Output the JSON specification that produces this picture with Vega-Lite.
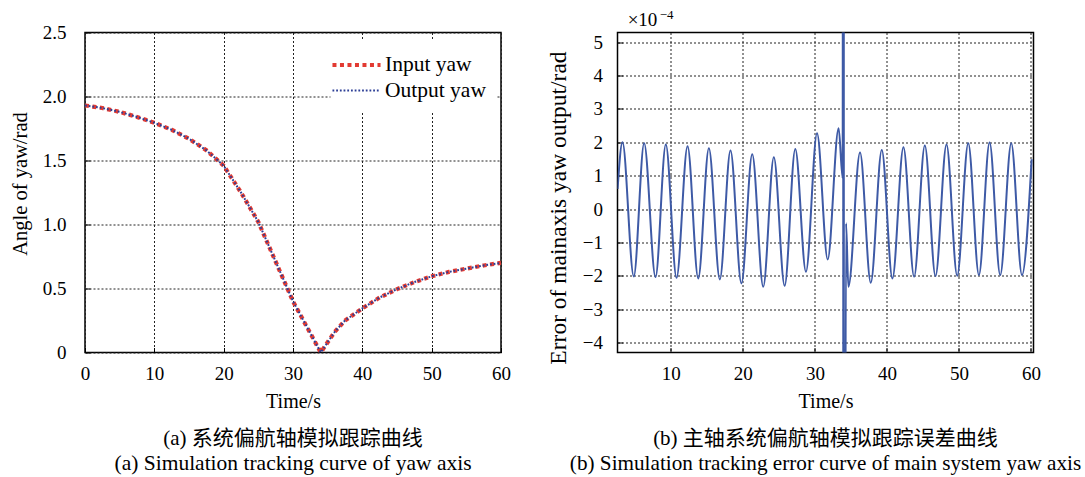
{
  "$schema": "https://vega.github.io/schema/vega-lite/v6.json",
  "background": "white",
  "padding": {"left": 9, "top": 7.5, "right": 0, "bottom": 0},
  "bounds": "flush",
  "spacing": 116.5,
  "config": {
    "view": {"stroke": "black", "strokeWidth": 1.5},
    "font": "Liberation Serif",
    "style": {
      "guide-label": {"font": "Liberation Serif", "fontSize": 19, "fill": "black"},
      "guide-title": {"font": "Liberation Serif", "fontSize": 20, "fontWeight": "normal", "fill": "black"}
    },
    "axis": {
      "domain": false,
      "grid": true,
      "gridColor": "#222222",
      "gridDash": [2, 2],
      "gridWidth": 1,
      "tickColor": "black",
      "tickSize": -5,
      "tickWidth": 1,
      "labelFont": "Liberation Serif",
      "labelFontSize": 19,
      "labelColor": "black",
      "titleFont": "Liberation Serif",
      "titleFontSize": 20,
      "titleFontWeight": "normal",
      "titleColor": "black",
      "labelFlush": false,
      "labelOverlap": false
    },
    "axisX": {"labelPadding": 17, "titlePadding": 8},
    "axisY": {"labelPadding": 24, "titlePadding": 12}
  },
  "hconcat": [
    {
      "width": 416,
      "height": 320,
      "title": {
        "text": "(a) 系统偏航轴模拟跟踪曲线",
        "subtitle": "(a) Simulation tracking curve of yaw axis",
        "orient": "bottom",
        "anchor": "middle",
        "frame": "group",
        "font": "Liberation Serif, Noto Sans CJK SC",
        "fontSize": 21,
        "fontWeight": "normal",
        "color": "black",
        "subtitleFont": "Liberation Serif",
        "subtitleFontSize": 21.5,
        "subtitleColor": "black",
        "subtitlePadding": 4,
        "offset": 16
      },
      "data": {
        "values": [
          {"t": 0, "v": 1.93, "series": "Input yaw"},
          {"t": 2.5, "v": 1.91, "series": "Input yaw"},
          {"t": 5, "v": 1.88, "series": "Input yaw"},
          {"t": 7.5, "v": 1.84, "series": "Input yaw"},
          {"t": 10, "v": 1.795, "series": "Input yaw"},
          {"t": 12.5, "v": 1.74, "series": "Input yaw"},
          {"t": 15, "v": 1.67, "series": "Input yaw"},
          {"t": 17.5, "v": 1.58, "series": "Input yaw"},
          {"t": 20, "v": 1.46, "series": "Input yaw"},
          {"t": 22.5, "v": 1.25, "series": "Input yaw"},
          {"t": 25, "v": 1.02, "series": "Input yaw"},
          {"t": 27.5, "v": 0.71, "series": "Input yaw"},
          {"t": 30, "v": 0.4, "series": "Input yaw"},
          {"t": 32, "v": 0.2, "series": "Input yaw"},
          {"t": 34, "v": 0.0, "series": "Input yaw"},
          {"t": 35, "v": 0.08, "series": "Input yaw"},
          {"t": 36, "v": 0.16, "series": "Input yaw"},
          {"t": 37.5, "v": 0.25, "series": "Input yaw"},
          {"t": 40, "v": 0.345, "series": "Input yaw"},
          {"t": 42.5, "v": 0.43, "series": "Input yaw"},
          {"t": 45, "v": 0.495, "series": "Input yaw"},
          {"t": 47.5, "v": 0.55, "series": "Input yaw"},
          {"t": 50, "v": 0.595, "series": "Input yaw"},
          {"t": 52.5, "v": 0.63, "series": "Input yaw"},
          {"t": 55, "v": 0.655, "series": "Input yaw"},
          {"t": 57.5, "v": 0.68, "series": "Input yaw"},
          {"t": 60, "v": 0.7, "series": "Input yaw"},
          {"t": 0, "v": 1.93, "series": "Output yaw"},
          {"t": 2.5, "v": 1.91, "series": "Output yaw"},
          {"t": 5, "v": 1.88, "series": "Output yaw"},
          {"t": 7.5, "v": 1.84, "series": "Output yaw"},
          {"t": 10, "v": 1.795, "series": "Output yaw"},
          {"t": 12.5, "v": 1.74, "series": "Output yaw"},
          {"t": 15, "v": 1.67, "series": "Output yaw"},
          {"t": 17.5, "v": 1.58, "series": "Output yaw"},
          {"t": 20, "v": 1.46, "series": "Output yaw"},
          {"t": 22.5, "v": 1.25, "series": "Output yaw"},
          {"t": 25, "v": 1.02, "series": "Output yaw"},
          {"t": 27.5, "v": 0.71, "series": "Output yaw"},
          {"t": 30, "v": 0.4, "series": "Output yaw"},
          {"t": 32, "v": 0.2, "series": "Output yaw"},
          {"t": 34, "v": 0.0, "series": "Output yaw"},
          {"t": 35, "v": 0.08, "series": "Output yaw"},
          {"t": 36, "v": 0.16, "series": "Output yaw"},
          {"t": 37.5, "v": 0.25, "series": "Output yaw"},
          {"t": 40, "v": 0.345, "series": "Output yaw"},
          {"t": 42.5, "v": 0.43, "series": "Output yaw"},
          {"t": 45, "v": 0.495, "series": "Output yaw"},
          {"t": 47.5, "v": 0.55, "series": "Output yaw"},
          {"t": 50, "v": 0.595, "series": "Output yaw"},
          {"t": 52.5, "v": 0.63, "series": "Output yaw"},
          {"t": 55, "v": 0.655, "series": "Output yaw"},
          {"t": 57.5, "v": 0.68, "series": "Output yaw"},
          {"t": 60, "v": 0.7, "series": "Output yaw"}
        ]
      },
      "mark": {"type": "line", "clip": true},
      "encoding": {
        "x": {
          "field": "t",
          "type": "quantitative",
          "scale": {"domain": [0, 60], "nice": false},
          "axis": {"values": [0, 10, 20, 30, 40, 50, 60], "title": "Time/s", "titleFontWeight": "normal", "labelFont": "Liberation Serif"}
        },
        "y": {
          "field": "v",
          "type": "quantitative",
          "scale": {"domain": [0, 2.5], "nice": false, "zero": false},
          "axis": {
            "values": [0, 0.5, 1, 1.5, 2, 2.5],
            "labelExpr": "datum.value == 0 ? '0' : format(datum.value, '.1f')",
            "labelFont": "Liberation Serif",
            "title": "Angle of yaw/rad",
            "titleFontSize": 20.5,
            "titleFontWeight": "normal",
            "titleY": 151
          }
        },
        "color": {
          "field": "series",
          "type": "nominal",
          "scale": {"domain": ["Input yaw", "Output yaw"], "range": ["#e23a32", "#2d3f96"]},
          "legend": {
            "orient": "none",
            "legendX": 245.5,
            "legendY": 6.5,
            "title": null,
            "fillColor": "white",
            "padding": 10,
            "symbolType": "M-1.78,0H1.78",
            "symbolSize": 729,
            "labelFont": "Liberation Serif",
            "labelFontSize": 21.5,
            "labelColor": "black",
            "labelOffset": 12.5,
            "rowPadding": 0
          }
        },
        "strokeDash": {
          "field": "series",
          "type": "nominal",
          "scale": {"domain": ["Input yaw", "Output yaw"], "range": [[4, 3.5], [1.8, 1.9]]}
        },
        "strokeWidth": {
          "field": "series",
          "type": "nominal",
          "scale": {"domain": ["Input yaw", "Output yaw"], "range": [4.2, 2]}
        }
      }
    },
    {
      "width": 416,
      "height": 320,
      "title": {
        "text": "(b) 主轴系统偏航轴模拟跟踪误差曲线",
        "subtitle": "(b) Simulation tracking error curve of main system yaw axis",
        "orient": "bottom",
        "anchor": "middle",
        "frame": "group",
        "font": "Liberation Serif, Noto Sans CJK SC",
        "fontSize": 21,
        "fontWeight": "normal",
        "color": "black",
        "subtitleFont": "Liberation Serif",
        "subtitleFontSize": 21.2,
        "subtitleColor": "black",
        "subtitlePadding": 4,
        "offset": 16
      },
      "encoding": {
        "x": {
          "field": "t",
          "type": "quantitative",
          "scale": {"domain": [2.59, 60.36], "nice": false, "zero": false},
          "axis": {"values": [10, 20, 30, 40, 50, 60], "title": "Time/s", "titleFontWeight": "normal", "labelFont": "Liberation Serif"}
        },
        "y": {
          "field": "v",
          "type": "quantitative",
          "scale": {"domain": [-4.3, 5.29], "nice": false, "zero": false},
          "axis": {
            "values": [-4, -3, -2, -1, 0, 1, 2, 3, 4, 5],
            "labelFont": "Liberation Serif",
            "title": "Error of mainaxis yaw output/rad",
            "titleFontSize": 23.5,
            "titleFontWeight": "normal",
            "titlePadding": 12,
            "titleY": 175,
            "labelPadding": 20
          }
        }
      },
      "layer": [
        {
          "data": {
            "values": [
              {"t": 2.6, "v": 0.6},
              {"t": 3.28, "v": 2.0},
              {"t": 4.85, "v": -2.02},
              {"t": 6.29, "v": 1.97},
              {"t": 7.87, "v": -2.04},
              {"t": 9.3, "v": 1.93},
              {"t": 10.79, "v": -2.06},
              {"t": 12.32, "v": 1.88},
              {"t": 13.8, "v": -2.08},
              {"t": 15.28, "v": 1.82},
              {"t": 16.8, "v": -2.11},
              {"t": 18.28, "v": 1.75},
              {"t": 19.8, "v": -2.23},
              {"t": 21.3, "v": 1.64},
              {"t": 22.83, "v": -2.33},
              {"t": 24.3, "v": 1.55},
              {"t": 25.8, "v": -2.3},
              {"t": 27.28, "v": 1.8},
              {"t": 28.76, "v": -1.88},
              {"t": 30.3, "v": 2.27},
              {"t": 31.78, "v": -1.51},
              {"t": 33.3, "v": 2.42},
              {"t": 33.86, "v": 0.92},
              {"t": 33.92, "v": 30},
              {"t": 33.96, "v": -30},
              {"t": 34.0, "v": 30},
              {"t": 34.04, "v": -30},
              {"t": 34.33, "v": -0.43},
              {"t": 34.65, "v": -2.33},
              {"t": 36.27, "v": 1.69},
              {"t": 37.76, "v": -2.21},
              {"t": 39.29, "v": 1.77},
              {"t": 40.77, "v": -2.08},
              {"t": 42.3, "v": 1.85},
              {"t": 43.78, "v": -2.03},
              {"t": 45.27, "v": 1.9},
              {"t": 46.75, "v": -2.01},
              {"t": 48.28, "v": 1.93},
              {"t": 49.76, "v": -2.0},
              {"t": 51.3, "v": 1.97},
              {"t": 52.78, "v": -1.98},
              {"t": 54.26, "v": 1.99},
              {"t": 55.74, "v": -1.98},
              {"t": 57.27, "v": 1.97},
              {"t": 58.76, "v": -1.98},
              {"t": 60.1, "v": 1.49}
            ]
          },
          "mark": {"type": "line", "clip": true, "interpolate": "monotone", "color": "#3e5aa6", "strokeWidth": 2}
        },
        {
          "data": {"values": [{"t": 4.0, "v": 5.29, "label": "×10"}]},
          "mark": {"type": "text", "align": "left", "baseline": "alphabetic", "dy": -7, "font": "Liberation Serif", "fontSize": 19, "color": "black"},
          "encoding": {
            "text": {"field": "label", "type": "nominal"}
          }
        },
        {
          "data": {"values": [{"t": 8.45, "v": 5.29, "label": "−4"}]},
          "mark": {"type": "text", "align": "left", "baseline": "alphabetic", "dy": -14, "font": "Liberation Serif", "fontSize": 13, "color": "black"},
          "encoding": {
            "text": {"field": "label", "type": "nominal"}
          }
        }
      ]
    }
  ]
}
